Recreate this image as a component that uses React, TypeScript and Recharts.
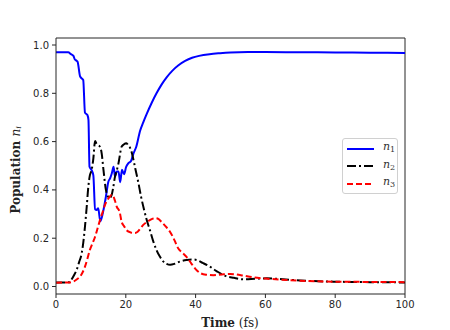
import { LineChart, Line, XAxis, YAxis, Label, ReferenceLine } from 'recharts';

// population n1 (blue, solid)
const n1Time = [0, 2, 3.5, 4.3, 5.0, 5.4, 5.9, 6.2, 6.9, 7.35, 7.8, 8.3, 9.0, 9.3, 9.6, 10.2, 10.7, 11.2, 11.65, 12.1, 12.7, 13.6, 14.3, 15.0, 15.5, 16.0, 16.5, 16.9, 17.4, 17.9, 18.4, 18.9, 19.5, 20.1, 20.7, 21.5, 22.2, 23.0, 24.1, 25.0, 26.0, 27.4, 28.8, 30.2, 31.7, 33.3, 35.0, 37, 39, 41, 44, 47, 50, 55, 60, 70, 80, 90, 100];
const n1Values = [0.97, 0.97, 0.97, 0.962, 0.955, 0.94, 0.935, 0.93, 0.87, 0.862, 0.855, 0.72, 0.71, 0.69, 0.496, 0.482, 0.46, 0.32, 0.317, 0.324, 0.27, 0.317, 0.372, 0.434, 0.448, 0.469, 0.496, 0.455, 0.476, 0.476, 0.432, 0.483, 0.465, 0.495, 0.51, 0.52, 0.551, 0.579, 0.645, 0.68, 0.715, 0.76, 0.8, 0.835, 0.866, 0.893, 0.915, 0.934, 0.947, 0.955, 0.962, 0.966, 0.969, 0.971, 0.971, 0.97, 0.969, 0.968, 0.967];

// population n2 (black, dash-dot)
const n2Time = [0, 3, 4, 4.5, 5.2, 5.9, 6.6, 7.35, 7.8, 8.3, 8.8, 9.26, 9.7, 10.2, 10.7, 11.2, 11.65, 12.1, 12.6, 13.1, 13.6, 14.3, 14.8, 15.3, 15.95, 16.4, 16.9, 17.4, 17.9, 18.8, 19.4, 20.2, 20.7, 21.2, 21.7, 22.2, 22.7, 23.6, 24.4, 25.2, 26.0, 26.9, 27.8, 28.8, 29.8, 30.8, 31.7, 32.7, 34, 35.5, 37.4, 39, 40.3, 42, 44.1, 46, 48, 51, 53.7, 57, 60.4, 65, 70, 80, 90, 100];
const n2Values = [0.017, 0.017, 0.018, 0.03, 0.048, 0.068, 0.1, 0.137, 0.18, 0.248, 0.33, 0.413, 0.46, 0.482, 0.53, 0.603, 0.59, 0.585, 0.579, 0.55, 0.483, 0.4, 0.375, 0.365, 0.379, 0.41, 0.455, 0.48, 0.51, 0.579, 0.588, 0.593, 0.585, 0.575, 0.555, 0.524, 0.49, 0.43, 0.37, 0.32, 0.275, 0.234, 0.19, 0.151, 0.123, 0.103, 0.094, 0.09, 0.094, 0.103, 0.11, 0.112, 0.11, 0.098, 0.082, 0.064, 0.047, 0.036, 0.03, 0.032, 0.034, 0.03, 0.025, 0.02, 0.018, 0.017];

// population n3 (red, dashed)
const n3Time = [0, 4, 5.0, 6.0, 6.9, 7.6, 8.3, 9.0, 9.7, 10.5, 11.2, 11.9, 12.6, 13.3, 14.0, 14.8, 15.5, 15.95, 16.4, 16.9, 17.4, 18.3, 18.8, 19.5, 20.2, 21.0, 21.9, 22.6, 23.4, 24.2, 25.0, 26.0, 26.9, 27.9, 28.6, 29.4, 30.2, 31.5, 32.7, 34.0, 35.0, 36.2, 37.4, 38.8, 40.0, 41.3, 43, 45.1, 47.5, 49.9, 53, 56.5, 60, 66.1, 70, 80, 90, 100];
const n3Values = [0.016, 0.017, 0.021, 0.03, 0.041, 0.058, 0.082, 0.115, 0.151, 0.18, 0.206, 0.24, 0.275, 0.305, 0.337, 0.36, 0.374, 0.379, 0.374, 0.355, 0.331, 0.305, 0.268, 0.25, 0.234, 0.226, 0.222, 0.222, 0.227, 0.24, 0.255, 0.267, 0.275, 0.282, 0.283, 0.279, 0.268, 0.248, 0.226, 0.19, 0.158, 0.14, 0.123, 0.095, 0.072, 0.056, 0.049, 0.047, 0.05, 0.052, 0.047, 0.038, 0.033, 0.027, 0.024, 0.02, 0.019, 0.018];

const xTicks = [0, 20, 40, 60, 80, 100];
const yTicks = [0, 0.2, 0.4, 0.6, 0.8, 1.0];
const xDomain = [0, 100];
const yDomain = [-0.031, 1.029];

const toRows = (ts: number[], vs: number[]) => ts.map((t, i) => ({ t, v: vs[i] }));

const series = [
  { key: 'n1', sub: '1', data: toRows(n1Time, n1Values), color: '#0000ff', dash: undefined },
  { key: 'n2', sub: '2', data: toRows(n2Time, n2Values), color: '#000000', dash: '9 3 2 3' },
  { key: 'n3', sub: '3', data: toRows(n3Time, n3Values), color: '#ff0000', dash: '6 3' },
];

const tickStyle = { fontSize: 10, fill: '#262626', fontFamily: 'DejaVu Sans' };
const axisColor = '#262626';

function LegendBox() {
  return (
    <div
      style={{
        position: 'absolute',
        left: 342,
        top: 138,
        width: 56,
        height: 56,
        boxSizing: 'border-box',
        border: '1px solid #d0d0d0',
        borderRadius: 3,
        background: '#fff',
        padding: '1px 0 0 4px',
      }}
    >
      {series.map((s) => (
        <div key={s.key} style={{ display: 'flex', alignItems: 'center', height: 17.5 }}>
          <svg width={27} height={6}>
            <line x1={0} y1={3} x2={27} y2={3} stroke={s.color} strokeWidth={2} strokeDasharray={s.dash} />
          </svg>
          <span
            style={{
              marginLeft: 9,
              fontFamily: 'DejaVu Serif',
              fontStyle: 'italic',
              fontSize: 11,
              color: '#333',
              lineHeight: '12px',
            }}
          >
            n<sub style={{ fontSize: 8, fontStyle: 'normal', verticalAlign: -2 }}>{s.sub}</sub>
          </span>
        </div>
      ))}
    </div>
  );
}

export default function App() {
  return (
    <div style={{ position: 'absolute', left: 0, top: 0, width: 450, height: 330, background: '#fff' }}>
      <LineChart width={450} height={330} margin={{ top: 38, right: 45, bottom: 0, left: 20 }}>
        <XAxis
          dataKey="t"
          type="number"
          domain={xDomain}
          ticks={xTicks}
          tick={tickStyle}
          tickSize={4}
          tickMargin={3}
          height={36}
          stroke={axisColor}
          allowDuplicatedCategory={false}
        >
          <Label
            content={() => (
              <text x={230} y={327} textAnchor="middle" fontFamily="DejaVu Serif" fontSize={12} fill="#222">
                <tspan fontWeight="bold">Time</tspan>
                <tspan> (fs)</tspan>
              </text>
            )}
          />
        </XAxis>
        <YAxis
          type="number"
          domain={yDomain}
          ticks={yTicks}
          tickFormatter={(v: number) => v.toFixed(1)}
          tick={tickStyle}
          tickSize={4}
          tickMargin={3}
          width={36}
          stroke={axisColor}
          allowDataOverflow
        >
          <Label
            content={() => (
              <text
                x={16}
                y={170}
                textAnchor="middle"
                transform="rotate(-90 16 170)"
                fontFamily="DejaVu Serif"
                fontSize={12}
                fill="#222"
                dominantBaseline="middle"
              >
                <tspan fontWeight="bold">Population </tspan>
                <tspan fontStyle="italic">n</tspan>
                <tspan fontStyle="italic" fontSize={8} dy={3}>i</tspan>
              </text>
            )}
          />
        </YAxis>
        {/* top and right frame lines */}
        <ReferenceLine y={yDomain[1]} stroke={axisColor} ifOverflow="visible" />
        <ReferenceLine x={xDomain[1]} stroke={axisColor} ifOverflow="visible" />
        {series.map((s) => (
          <Line
            key={s.key}
            data={s.data}
            dataKey="v"
            name={s.key}
            type="monotone"
            stroke={s.color}
            strokeWidth={2}
            strokeDasharray={s.dash}
            dot={false}
            isAnimationActive={false}
          />
        ))}
      </LineChart>
      <LegendBox />
    </div>
  );
}
